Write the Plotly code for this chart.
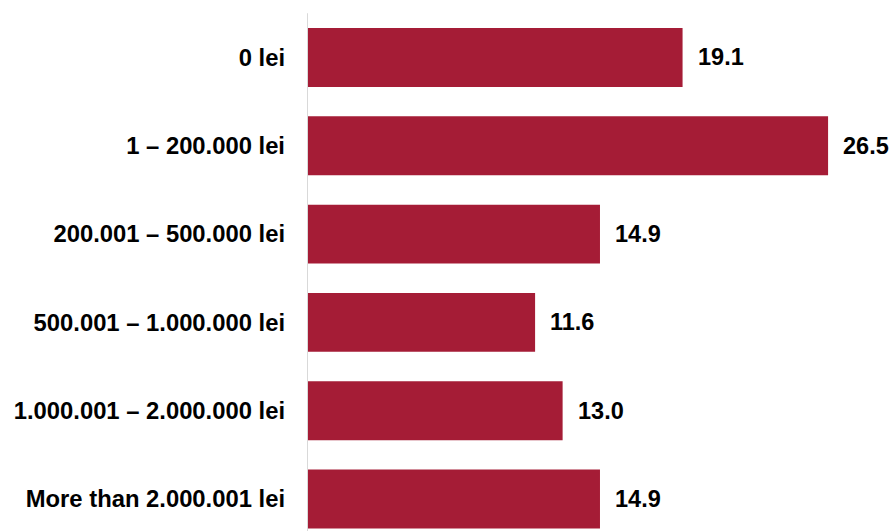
import plotly.graph_objects as go

categories = [
    "0 lei",
    "1 – 200.000 lei",
    "200.001 – 500.000 lei",
    "500.001 – 1.000.000 lei",
    "1.000.001 – 2.000.000 lei",
    "More than 2.000.001 lei",
]
values = [19.1, 26.5, 14.9, 11.6, 13.0, 14.9]

BAR_COLOR = "#A51C36"
FONT = "Liberation Sans, Arial, sans-serif"

fig = go.Figure(
    go.Bar(
        x=values,
        y=categories,
        orientation="h",
        marker=dict(color=BAR_COLOR, line=dict(width=0)),
        hoverinfo="skip",
    )
)

# value labels to the right of each bar
for cat, v in zip(categories, values):
    fig.add_annotation(
        x=v, y=cat, text=f"<b>{v:.1f}</b>", showarrow=False,
        xanchor="left", yanchor="middle", xshift=13,
        font=dict(family=FONT, size=23.5, color="#000000"),
    )

# vertical baseline at zero
fig.add_shape(
    type="line", xref="x", yref="y", x0=0, x1=0, y0=-0.5, y1=5.362,
    line=dict(color="#d9d9d9", width=2), layer="above",
)

fig.update_layout(
    width=891, height=531,
    margin=dict(l=307, r=0, t=0, b=0),
    plot_bgcolor="white", paper_bgcolor="white",
    bargap=0.333,
    showlegend=False,
    font=dict(family=FONT, size=24, color="#000000"),
    xaxis=dict(range=[0, 29.7], visible=False, fixedrange=True),
    yaxis=dict(
        categoryorder="array", categoryarray=categories,
        range=[5.362, -0.651],
        showline=False, showgrid=False, zeroline=False, ticks="",
        ticklabelstandoff=21,
        tickfont=dict(family=FONT, size=23.8, color="#000000", weight="bold"),
    ),
)

fig.write_html("out.html")
